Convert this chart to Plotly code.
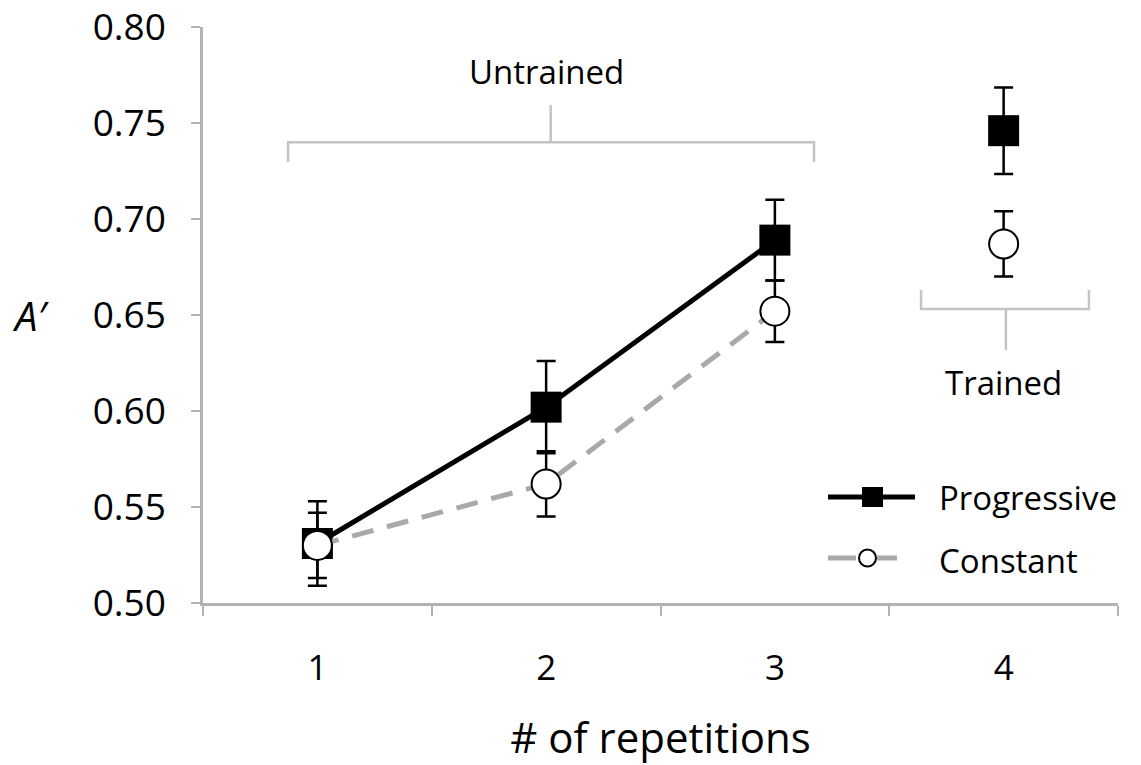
import plotly.graph_objects as go

# ---- data ----
reps = [1, 2, 3, 4]
tick_labels = ["1", "2", "3", "4"]
progressive = [0.531, 0.602, 0.689, 0.746]
progressive_err = [0.022, 0.024, 0.021, 0.0225]
constant = [0.530, 0.562, 0.652, 0.687]
constant_err = [0.017, 0.017, 0.016, 0.017]
y_ticks = [0.50, 0.55, 0.60, 0.65, 0.70, 0.75, 0.80]

FONT = "Open Sans"
AXIS_GRAY = "#b3b3b3"
BRACKET_GRAY = "#c4c4c4"
DASH_GRAY = "#a9a9a9"

fig = go.Figure()

err_style = dict(type="data", color="black", thickness=2.5, width=9.5, visible=True)

# Progressive, untrained (1-3) connected
fig.add_trace(go.Scatter(
    x=reps[:3], y=progressive[:3], mode="lines+markers",
    line=dict(color="black", width=5),
    marker=dict(symbol="square", size=31, color="black"),
    error_y=dict(array=progressive_err[:3], **err_style),
    showlegend=False, cliponaxis=False))
# Constant, untrained (1-3) connected
fig.add_trace(go.Scatter(
    x=reps[:3], y=constant[:3], mode="lines+markers",
    line=dict(color=DASH_GRAY, width=5, dash="22px,14px"),
    marker=dict(symbol="circle", size=29, color="white", line=dict(color="black", width=2)),
    error_y=dict(array=constant_err[:3], **err_style),
    showlegend=False, cliponaxis=False))
# Trained (4)
fig.add_trace(go.Scatter(
    x=reps[3:], y=progressive[3:], mode="markers",
    marker=dict(symbol="square", size=31, color="black"),
    error_y=dict(array=progressive_err[3:], **err_style),
    showlegend=False, cliponaxis=False))
fig.add_trace(go.Scatter(
    x=reps[3:], y=constant[3:], mode="markers",
    marker=dict(symbol="circle", size=29, color="white", line=dict(color="black", width=2)),
    error_y=dict(array=constant_err[3:], **err_style),
    showlegend=False, cliponaxis=False))

# ---- brackets ----
bl = dict(color=BRACKET_GRAY, width=2.5)
# Untrained bracket
fig.add_shape(type="path", xref="x", yref="y",
              path="M 0.872 0.7297 L 0.872 0.740 L 3.171 0.740 L 3.171 0.7297", line=bl)
fig.add_shape(type="line", xref="x", yref="y", x0=2.02, x1=2.02, y0=0.740, y1=0.7594, line=bl)
fig.add_annotation(x=2.0, y=0.7768, xref="x", yref="y", text="Untrained", showarrow=False,
                   font=dict(family=FONT, size=33, color="black"))
# Trained bracket
fig.add_shape(type="path", xref="x", yref="y",
              path="M 3.639 0.663 L 3.639 0.6531 L 4.373 0.6531 L 4.373 0.663", line=bl)
fig.add_shape(type="line", xref="x", yref="y", x0=4.01, x1=4.01, y0=0.6531, y1=0.6318, line=bl)
fig.add_annotation(x=4.0, y=0.6146, xref="x", yref="y", text="Trained", showarrow=False,
                   font=dict(family=FONT, size=33, color="black"))

# ---- custom legend (paper coords) ----
W, H = 1141, 765
L, R, T, B = 203, 23, 27, 162
pw, ph = W - L - R, H - T - B
def px(x):
    return (x - L) / pw
def py(y):
    return (H - B - y) / ph

fig.add_shape(type="line", xref="paper", yref="paper",
              x0=px(828), x1=px(915), y0=py(497), y1=py(497), line=dict(color="black", width=5))
fig.add_shape(type="rect", xref="paper", yref="paper",
              x0=px(862), x1=px(883), y0=py(487), y1=py(507),
              line=dict(color="black", width=0), fillcolor="black")
fig.add_shape(type="line", xref="paper", yref="paper",
              x0=px(828), x1=px(856), y0=py(558), y1=py(558), line=dict(color=DASH_GRAY, width=5))
fig.add_shape(type="line", xref="paper", yref="paper",
              x0=px(877), x1=px(897), y0=py(558), y1=py(558), line=dict(color=DASH_GRAY, width=5))
fig.add_shape(type="circle", xref="paper", yref="paper",
              x0=px(859), x1=px(876), y0=py(549.5), y1=py(566.5),
              line=dict(color="black", width=2), fillcolor="white")
fig.add_annotation(x=px(937), y=py(497), xref="paper", yref="paper", text="Progressive",
                   showarrow=False, xanchor="left", yanchor="middle",
                   font=dict(family=FONT, size=33, color="black"))
fig.add_annotation(x=px(937), y=py(560), xref="paper", yref="paper", text="Constant",
                   showarrow=False, xanchor="left", yanchor="middle",
                   font=dict(family=FONT, size=33, color="black"))

# y-axis title A′
fig.add_annotation(x=px(30), y=0.65, xref="paper", yref="y", text="<i>A′</i>",
                   showarrow=False, xanchor="center", yanchor="middle",
                   font=dict(family=FONT, size=40, color="black"))

fig.update_layout(
    width=W, height=H,
    margin=dict(l=L, r=R, t=T, b=B, autoexpand=False),
    paper_bgcolor="white", plot_bgcolor="white",
    font=dict(family=FONT, color="black"),
    xaxis=dict(
        range=[0.5, 4.5], tickmode="array", tickvals=reps, ticktext=tick_labels,
        ticks="", showgrid=False, zeroline=False, automargin=False,
        showline=True, linecolor=AXIS_GRAY, linewidth=2.5,
        tickfont=dict(family=FONT, size=35, color="black"),
        ticklabelstandoff=32,
        minor=dict(tickmode="array", tickvals=[0.5, 1.5, 2.5, 3.5, 4.5], ticks="outside",
                   ticklen=10, tickwidth=2, tickcolor=AXIS_GRAY, showgrid=False),
        title=dict(text="# of repetitions", font=dict(family=FONT, size=42, color="black"),
                   standoff=40),
    ),
    yaxis=dict(
        range=[0.5, 0.8], tickmode="array", tickvals=y_ticks,
        ticktext=[f"{v:.2f}" for v in y_ticks],
        ticks="outside", ticklen=9, tickwidth=2, tickcolor=AXIS_GRAY,
        showgrid=False, zeroline=False, automargin=False,
        showline=True, linecolor=AXIS_GRAY, linewidth=2.5,
        tickfont=dict(family=FONT, size=37, color="black"),
        ticklabelstandoff=18, ticklabeloverflow="allow",
    ),
)

fig.write_html("out.html", config={"displayModeBar": False},
               post_script="document.body.style.margin='0';document.body.style.padding='0';")
